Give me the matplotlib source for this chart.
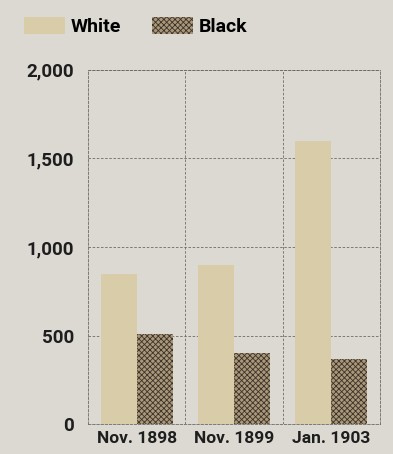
import matplotlib
matplotlib.use("Agg")
import matplotlib.pyplot as plt
import numpy as np

categories = ["Nov. 1898", "Nov. 1899", "Jan. 1903"]
white_vals = [850, 900, 1600]
black_vals = [510, 400, 370]
yticks = [0, 500, 1000, 1500, 2000]
ytick_labels = ["0", "500", "1,000", "1,500", "2,000"]

fam = "Roboto"
plt.rcParams['font.family'] = [fam, 'DejaVu Sans']

bg = "#dcd9d3"
white_col = "#d9cca8"
black_face = "#a8987c"
black_hatch = "#3e3126"

fig = plt.figure(figsize=(3.93, 4.54), dpi=100, facecolor=bg)
ax = fig.add_axes([0.224, 0.066, 0.743, 0.780], facecolor=bg)

x = np.arange(len(categories))
w = 0.37
plt.rcParams['hatch.color'] = black_hatch
plt.rcParams['hatch.linewidth'] = 0.6
ax.bar(x - w/2, white_vals, width=w, color=white_col, edgecolor='none', zorder=3, label="White")
ax.bar(x + w/2, black_vals, width=w, color=black_face, edgecolor=black_hatch, linewidth=0,
       hatch='xxxxxx', zorder=3, label="Black")

ax.set_xlim(-0.5, 2.5)
ax.set_ylim(0, 2000)
ax.set_yticks(yticks)
ax.set_yticklabels(ytick_labels, fontsize=13.5, fontweight='bold', color='#1e1e1e')
ax.set_xticks(x)
ax.set_xticklabels(categories, fontsize=12.5, fontweight='bold', color='#1e1e1e')
ax.tick_params(length=0, pad=10)
ax.tick_params(axis='x', pad=5)

gcol = '#6a6a6a'
ls = (0, (3, 2))
for yv in yticks[1:]:
    ax.axhline(yv, color=gcol, lw=0.6, ls=ls, zorder=1)
for xv in [0.5, 1.5]:
    ax.axvline(xv, color=gcol, lw=0.6, ls=ls, zorder=1)
for s in ax.spines.values():
    s.set_color(gcol)
    s.set_linewidth(0.6)
    s.set_linestyle(ls)

fig.legend(loc='upper left', bbox_to_anchor=(0.017, 1.0), ncol=2, frameon=False,
           prop={'size': 14, 'weight': 'bold', 'family': [fam, 'DejaVu Sans']},
           handlelength=2.1, handleheight=0.9, columnspacing=1.6, handletextpad=0.3)

fig.savefig("out.png", dpi=100, facecolor=bg)
